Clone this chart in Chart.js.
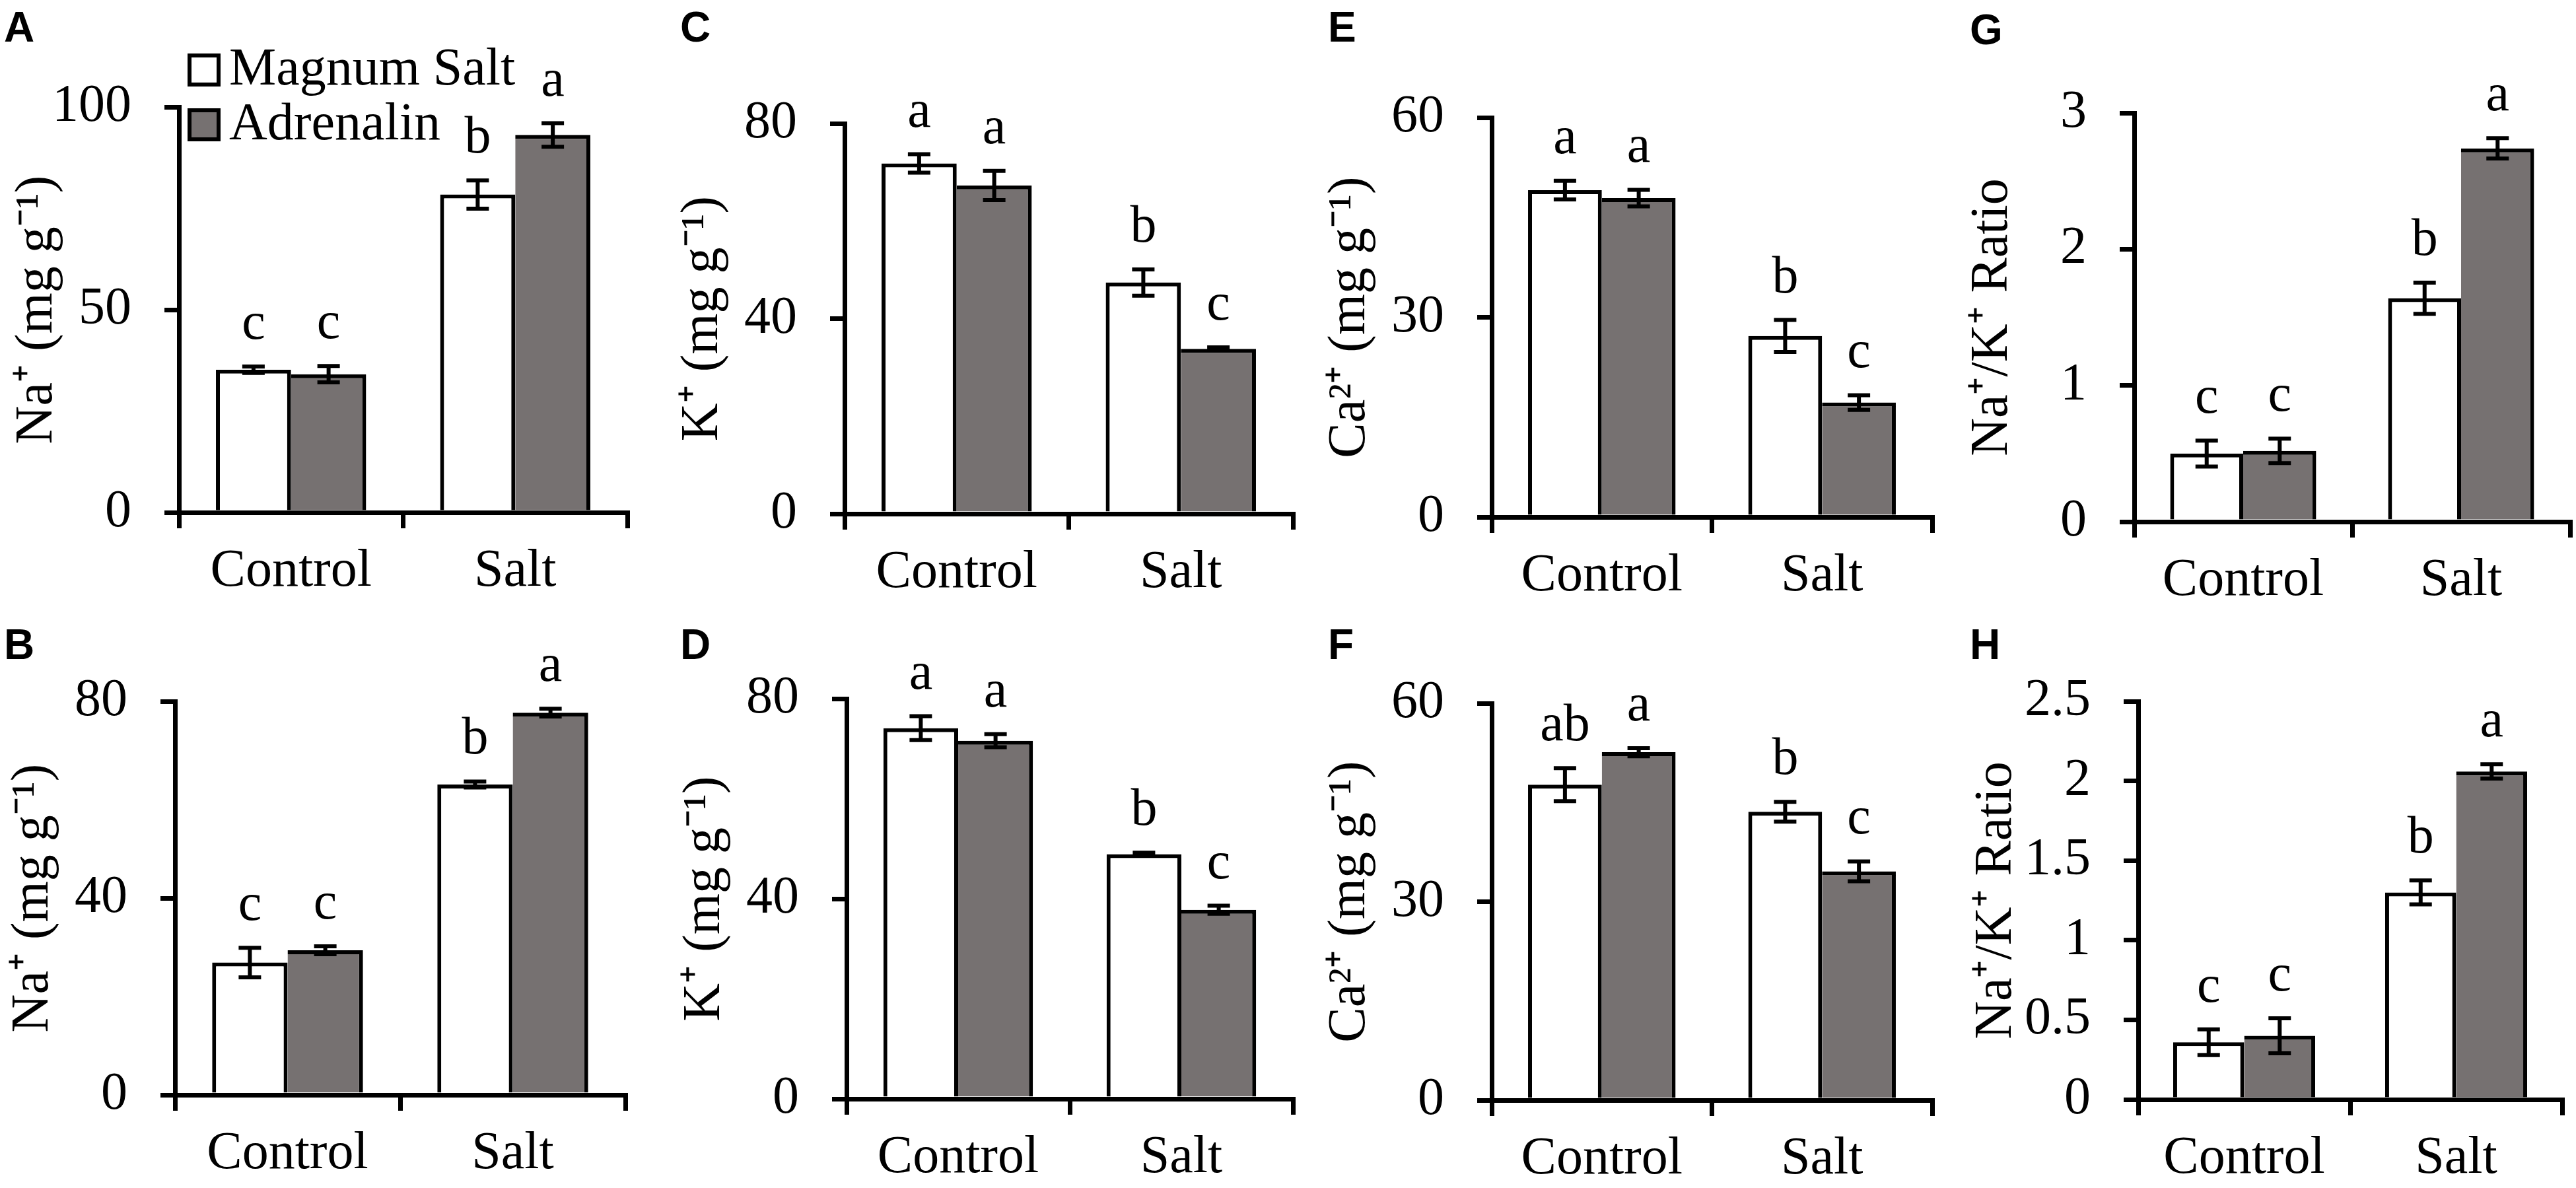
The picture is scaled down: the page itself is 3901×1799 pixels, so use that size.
<!DOCTYPE html>
<html><head><meta charset="utf-8">
<script src="https://cdn.jsdelivr.net/npm/chart.js"></script>
<style>
html,body{margin:0;padding:0;background:#fff;width:3901px;height:1799px;overflow:hidden;}
canvas{position:absolute;}
.tag{position:absolute;font-family:'Liberation Sans',Arial,sans-serif;font-weight:bold;font-size:64px;line-height:1;color:#000;}
</style></head><body>
<script>
// ---------- DATA ----------
const categories = ['Control', 'Salt'];
const seriesNames = ['Magnum Salt', 'Adrenalin'];

// A: Na+
const naA_magnum = [35.2, 78.4];
const naA_magnumErr = [0.8, 3.5];
const naA_adrenalin = [34.1, 93.1];
const naA_adrenalinErr = [2.0, 2.9];
const naA_magnumLetters = ['c', 'b'];
const naA_adrenalinLetters = ['c', 'a'];
const naA_ticks = [0, 50, 100];

// B: Na+
const naB_magnum = [26.9, 63.1];
const naB_magnumErr = [3.0, 0.6];
const naB_adrenalin = [29.4, 77.7];
const naB_adrenalinErr = [0.8, 0.8];
const naB_magnumLetters = ['c', 'b'];
const naB_adrenalinLetters = ['c', 'a'];
const naB_ticks = [0, 40, 80];

// C: K+
const kC_magnum = [71.8, 47.4];
const kC_magnumErr = [1.9, 2.7];
const kC_adrenalin = [67.3, 33.8];
const kC_adrenalinErr = [3.0, 0.3];
const kC_magnumLetters = ['a', 'b'];
const kC_adrenalinLetters = ['a', 'c'];
const kC_ticks = [0, 40, 80];

// D: K+
const kD_magnum = [74.1, 48.9];
const kD_magnumErr = [2.4, 0.3];
const kD_adrenalin = [71.6, 37.8];
const kD_adrenalinErr = [1.3, 0.8];
const kD_magnumLetters = ['a', 'b'];
const kD_adrenalinLetters = ['a', 'c'];
const kD_ticks = [0, 40, 80];

// E: Ca2+
const caE_magnum = [49.1, 27.2];
const caE_magnumErr = [1.4, 2.4];
const caE_adrenalin = [47.9, 17.2];
const caE_adrenalinErr = [1.25, 1.1];
const caE_magnumLetters = ['a', 'b'];
const caE_adrenalinLetters = ['a', 'c'];
const caE_ticks = [0, 30, 60];

// F: Ca2+
const caF_magnum = [47.7, 43.6];
const caF_magnumErr = [2.5, 1.5];
const caF_adrenalin = [52.6, 34.6];
const caF_adrenalinErr = [0.6, 1.5];
const caF_magnumLetters = ['ab', 'b'];
const caF_adrenalinLetters = ['a', 'c'];
const caF_ticks = [0, 30, 60];

// G: Na+/K+
const ratioG_magnum = [0.50, 1.64];
const ratioG_magnumErr = [0.095, 0.114];
const ratioG_adrenalin = [0.52, 2.74];
const ratioG_adrenalinErr = [0.09, 0.075];
const ratioG_magnumLetters = ['c', 'b'];
const ratioG_adrenalinLetters = ['c', 'a'];
const ratioG_ticks = [0, 1, 2, 3];

// H: Na+/K+
const ratioH_magnum = [0.36, 1.30];
const ratioH_magnumErr = [0.081, 0.075];
const ratioH_adrenalin = [0.40, 2.06];
const ratioH_adrenalinErr = [0.11, 0.045];
const ratioH_magnumLetters = ['c', 'b'];
const ratioH_adrenalinLetters = ['c', 'a'];
const ratioH_ticks = [0, 0.5, 1, 1.5, 2, 2.5];

const titleNa = 'Na\u207A (mg g\u207B\u00B9)';
const titleK = 'K\u207A (mg g\u207B\u00B9)';
const titleCa = 'Ca\u00B2\u207A (mg g\u207B\u00B9)';
const titleRatio = 'Na\u207A/K\u207A Ratio';

// ---------- LAYOUT / STYLE ----------
const FONT = "'Liberation Serif','Times New Roman',serif";
const FS = 80;
const LW = 6;       // bar borders & error bars
const AXW = 7;      // axis lines
const GREY = '#767171';
const Y_W = 270, TOP_M = 130, X_H = 150, RIGHT_M = 10;

const panels = [
  {tag:'A', m:naA_magnum, me:naA_magnumErr, a:naA_adrenalin, ae:naA_adrenalinErr, ml:naA_magnumLetters, al:naA_adrenalinLetters, ticks:naA_ticks, title:titleNa,
   g:{axisX:271, top:162, bottom:776, right:950, tagX:6, tagY:17}, legend:true},
  {tag:'C', m:kC_magnum, me:kC_magnumErr, a:kC_adrenalin, ae:kC_adrenalinErr, ml:kC_magnumLetters, al:kC_adrenalinLetters, ticks:kC_ticks, title:titleK,
   g:{axisX:1279, top:187, bottom:778, right:1958, tagX:1030, tagY:17}},
  {tag:'E', m:caE_magnum, me:caE_magnumErr, a:caE_adrenalin, ae:caE_adrenalinErr, ml:caE_magnumLetters, al:caE_adrenalinLetters, ticks:caE_ticks, title:titleCa,
   g:{axisX:2259, top:178, bottom:783, right:2926, tagX:2011, tagY:17}},
  {tag:'G', m:ratioG_magnum, me:ratioG_magnumErr, a:ratioG_adrenalin, ae:ratioG_adrenalinErr, ml:ratioG_magnumLetters, al:ratioG_adrenalinLetters, ticks:ratioG_ticks, title:titleRatio,
   g:{axisX:3232, top:171, bottom:790, right:3892, tagX:2983, tagY:21}},
  {tag:'B', m:naB_magnum, me:naB_magnumErr, a:naB_adrenalin, ae:naB_adrenalinErr, ml:naB_magnumLetters, al:naB_adrenalinLetters, ticks:naB_ticks, title:titleNa,
   g:{axisX:265, top:1062, bottom:1658, right:947, tagX:6, tagY:952}},
  {tag:'D', m:kD_magnum, me:kD_magnumErr, a:kD_adrenalin, ae:kD_adrenalinErr, ml:kD_magnumLetters, al:kD_adrenalinLetters, ticks:kD_ticks, title:titleK,
   g:{axisX:1282, top:1058, bottom:1664, right:1958, tagX:1030, tagY:952}},
  {tag:'F', m:caF_magnum, me:caF_magnumErr, a:caF_adrenalin, ae:caF_adrenalinErr, ml:caF_magnumLetters, al:caF_adrenalinLetters, ticks:caF_ticks, title:titleCa,
   g:{axisX:2259, top:1065, bottom:1666, right:2926, tagX:2011, tagY:952}},
  {tag:'H', m:ratioH_magnum, me:ratioH_magnumErr, a:ratioH_adrenalin, ae:ratioH_adrenalinErr, ml:ratioH_magnumLetters, al:ratioH_adrenalinLetters, ticks:ratioH_ticks, title:titleRatio,
   g:{axisX:3238, top:1062, bottom:1665, right:3880, tagX:2983, tagY:952}}
];

// ---------- PLUGIN: error bars, significance letters, legend ----------
const decorPlugin = {
  id: 'decor',
  afterDatasetsDraw(chart) {
    const ctx = chart.ctx;
    const ys = chart.scales.y;
    chart.data.datasets.forEach((ds, di) => {
      const meta = chart.getDatasetMeta(di);
      meta.data.forEach((bar, i) => {
        const v = ds.data[i], e = ds.errors[i];
        const x = bar.x;
        const yT = ys.getPixelForValue(v + e), yB = ys.getPixelForValue(v - e);
        const cap = 17;
        ctx.save();
        ctx.strokeStyle = '#000'; ctx.lineWidth = LW; ctx.lineCap = 'butt';
        ctx.beginPath();
        ctx.moveTo(x, yT - LW / 2); ctx.lineTo(x, yB + LW / 2);
        ctx.moveTo(x - cap, yT); ctx.lineTo(x + cap, yT);
        ctx.moveTo(x - cap, yB); ctx.lineTo(x + cap, yB);
        ctx.stroke();
        ctx.fillStyle = '#000';
        ctx.font = FS + 'px ' + FONT;
        ctx.textAlign = 'center'; ctx.textBaseline = 'alphabetic';
        ctx.fillText(ds.letters[i], x, yT - 42);
        ctx.restore();
      });
    });
    const lg = chart.options.plugins.decor && chart.options.plugins.decor.legend;
    if (lg) {
      const ca = chart.chartArea;
      ctx.save();
      chart.data.datasets.forEach((ds, di) => {
        const bx = ca.left + 16, by = ca.top - 78 + di * 83, s = 44;
        ctx.fillStyle = ds.backgroundColor;
        ctx.fillRect(bx, by, s, s);
        ctx.strokeStyle = '#000'; ctx.lineWidth = LW;
        ctx.strokeRect(bx, by, s, s);
        ctx.fillStyle = '#000';
        ctx.font = FS + 'px ' + FONT;
        ctx.textAlign = 'left'; ctx.textBaseline = 'alphabetic';
        ctx.fillText(ds.label, bx + s + 16, by + s);
      });
      ctx.restore();
    }
  }
};

// ---------- BUILD ----------
panels.forEach(p => {
  const g = p.g;
  const left = g.axisX - Y_W;
  const top = g.top - TOP_M;
  const w = g.right + RIGHT_M - left;
  const h = g.bottom + X_H - top;
  const cv = document.createElement('canvas');
  cv.width = w; cv.height = h;
  cv.style.left = left + 'px'; cv.style.top = top + 'px';
  cv.style.width = w + 'px'; cv.style.height = h + 'px';
  document.body.appendChild(cv);

  const tg = document.createElement('div');
  tg.className = 'tag'; tg.textContent = p.tag;
  tg.style.left = g.tagX + 'px'; tg.style.top = (g.tagY - 8) + 'px';
  document.body.appendChild(tg);

  const maxT = p.ticks[p.ticks.length - 1];
  new Chart(cv, {
    type: 'bar',
    data: {
      labels: categories,
      datasets: [
        {label: seriesNames[0], data: p.m, errors: p.me, letters: p.ml,
         backgroundColor: '#ffffff', borderColor: '#000', borderWidth: {top: LW, left: LW, right: LW, bottom: 0},
         borderSkipped: false, categoryPercentage: 0.67, barPercentage: 1.0},
        {label: seriesNames[1], data: p.a, errors: p.ae, letters: p.al,
         backgroundColor: GREY, borderColor: '#000', borderWidth: {top: LW, left: 0, right: LW, bottom: 0},
         borderSkipped: false, categoryPercentage: 0.67, barPercentage: 1.0}
      ]
    },
    options: {
      responsive: false, animation: false, devicePixelRatio: 1,
      layout: {padding: {top: TOP_M, right: RIGHT_M, left: 0, bottom: 0}},
      plugins: {legend: {display: false}, tooltip: {enabled: false}, decor: {legend: !!p.legend}},
      scales: {
        x: {
          z: 1,
          offset: true,
          grid: {offset: true, drawOnChartArea: false, drawTicks: true, tickLength: 24, color: '#000', lineWidth: AXW},
          border: {display: true, color: '#000', width: AXW},
          ticks: {color: '#000', font: {family: FONT, size: FS}, padding: 18, maxRotation: 0, autoSkip: false},
          afterFit: s => { s.height = X_H; }
        },
        y: {
          z: 1,
          min: 0, max: maxT,
          afterBuildTicks: s => { s.ticks = p.ticks.map(v => ({value: v})); },
          grid: {drawOnChartArea: false, drawTicks: true, tickLength: 22, color: '#000', lineWidth: AXW},
          border: {display: true, color: '#000', width: AXW},
          ticks: {color: '#000', font: {family: FONT, size: FS}, padding: 50, callback: v => String(v)},
          title: {display: true, text: p.title, color: '#000', font: {family: FONT, size: FS}, padding: {top: 8, bottom: 0}},
          afterFit: s => { s.width = Y_W; }
        }
      }
    },
    plugins: [decorPlugin]
  });
});
</script>
</body></html>
